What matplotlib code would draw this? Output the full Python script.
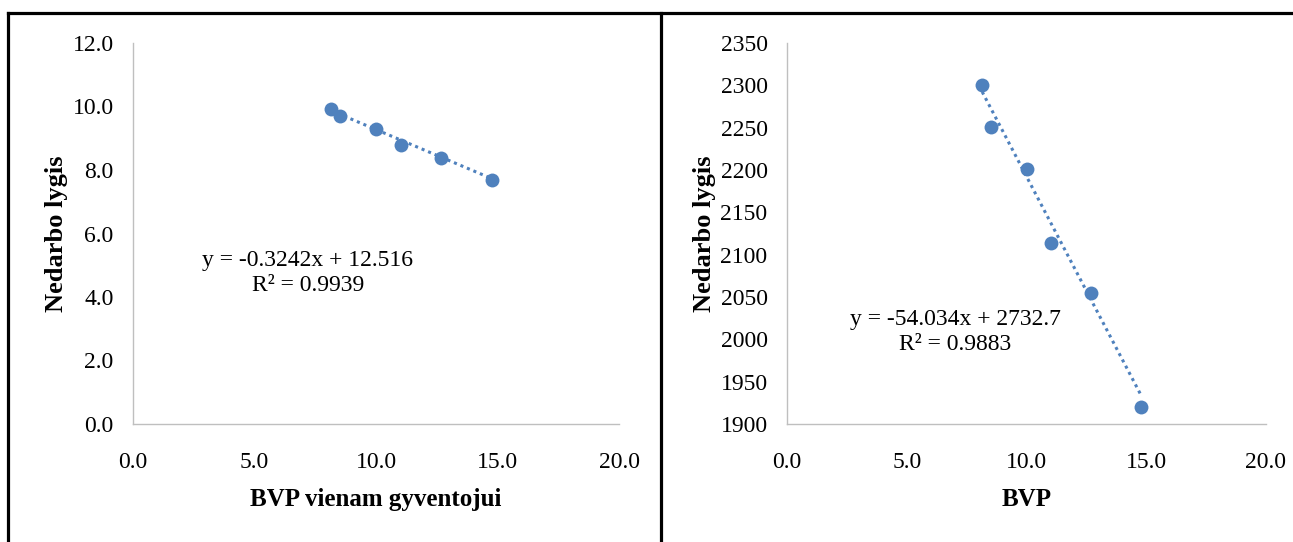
import numpy as np
import matplotlib
matplotlib.use("Agg")
import matplotlib.pyplot as plt
from matplotlib.lines import Line2D

# Duomenys (nuskaityta nuo paveikslo)
bvp = [8.15, 8.52, 10.0, 11.02, 12.68, 14.77]
nedarbas_kairė = [9.91, 9.71, 9.29, 8.78, 8.37, 7.69]
nedarbas_dešinė = [2300, 2251, 2201, 2114, 2055, 1920]

x_ticks = [0.0, 5.0, 10.0, 15.0, 20.0]
y_ticks_kairė = [0.0, 2.0, 4.0, 6.0, 8.0, 10.0, 12.0]
y_ticks_dešinė = [1900, 1950, 2000, 2050, 2100, 2150, 2200, 2250, 2300, 2350]

trend_kairė = (-0.3242, 12.516)
trend_dešinė = (-54.034, 2732.7)

plt.rcParams["font.family"] = ["Liberation Serif", "DejaVu Serif"]
mėlyna = "#4f81bd"
pilka = "#bfbfbf"

fig = plt.figure(figsize=(12.93, 5.42), dpi=100)
W, H = 1293, 542


def ašys(x0, x1, y0, y1):
    return fig.add_axes([x0 / W, 1 - y1 / H, (x1 - x0) / W, (y1 - y0) / H])


def piešti(ax, y, trend, yticks, yfmt, xlabel, eq, eq_pos):
    ax.scatter(bvp, y, s=100, color=mėlyna, zorder=3, linewidths=0)
    xx = np.array([min(bvp), max(bvp)])
    ax.plot(xx, trend[0] * xx + trend[1], linestyle=(0, (1, 1.3)), color=mėlyna,
            linewidth=2.2, zorder=2)
    ax.set_xlim(0, 20)
    ax.set_ylim(yticks[0], yticks[-1])
    ax.set_xticks(x_ticks)
    ax.set_xticklabels([f"{v:.1f}" for v in x_ticks])
    ax.set_yticks(yticks)
    ax.set_yticklabels([yfmt(v) for v in yticks])
    ax.tick_params(length=0, labelsize=17)
    ax.tick_params(axis="x", pad=20)
    ax.tick_params(axis="y", pad=14)
    for s in ["top", "right"]:
        ax.spines[s].set_visible(False)
    for s in ["left", "bottom"]:
        ax.spines[s].set_color(pilka)
        ax.spines[s].set_linewidth(1)
    ax.set_xlabel(xlabel, fontsize=18, fontweight="bold", labelpad=11)
    ax.set_ylabel("Nedarbo lygis", fontsize=19, fontweight="bold", labelpad=3)
    ax.text(eq_pos[0], eq_pos[1], eq, transform=ax.transAxes, fontsize=17,
            ha="center", va="center", multialignment="center", linespacing=1.3)


ax1 = ašys(133, 619, 43, 424)
piešti(ax1, nedarbas_kairė, trend_kairė, y_ticks_kairė, lambda v: f"{v:.1f}",
       "BVP vienam gyventojui", "y = -0.3242x + 12.516\nR² = 0.9939",
       ((308 - 133) / 486, (424 - 273) / 381))

ax2 = ašys(787, 1266, 43, 424)
piešti(ax2, nedarbas_dešinė, trend_dešinė, y_ticks_dešinė, lambda v: f"{v:d}",
       "BVP", "y = -54.034x + 2732.7\nR² = 0.9883",
       ((955 - 787) / 479, (424 - 332) / 381))

# rėmeliai
for xs, ys in [([8, 8], [13, H]), ([8, W], [13, 13]), ([661, 661], [13, H])]:
    fig.add_artist(Line2D([x / W for x in xs], [1 - y / H for y in ys],
                          color="black", linewidth=2.3, transform=fig.transFigure))

fig.savefig("out.png", dpi=100, facecolor="white")
